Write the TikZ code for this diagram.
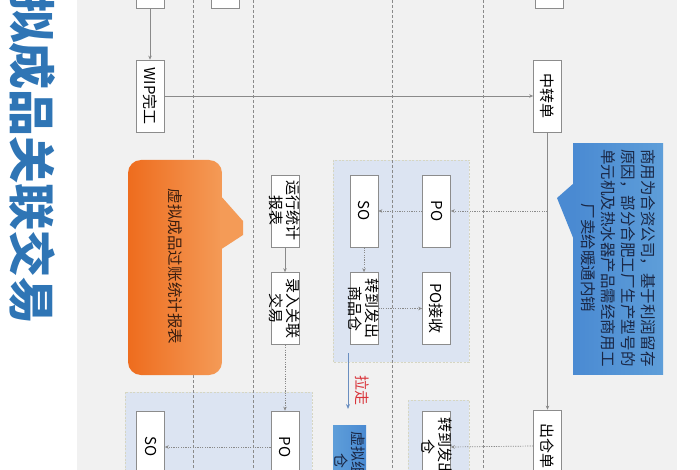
\documentclass[tikz,border=0pt]{standalone}
\usepackage{fontspec}
\setmainfont{Noto Sans CJK SC}
\usetikzlibrary{arrows.meta}
\definecolor{bggray}{HTML}{F1F1F1}
\definecolor{boxgray}{HTML}{8C8C8C}
\definecolor{linegray}{HTML}{8A8A8A}
\definecolor{grpfill}{HTML}{DCE4F2}
\definecolor{grpline}{HTML}{D6D6C2}
\definecolor{titleblue}{HTML}{2F75B5}
\definecolor{orA}{HTML}{EE6C1E}
\definecolor{orB}{HTML}{F49B57}
\definecolor{blA}{HTML}{4A8AD2}
\definecolor{blB}{HTML}{5E9ED9}
\definecolor{navytxt}{HTML}{1A2745}
\definecolor{darktxt}{HTML}{3A1E10}
\definecolor{redtxt}{HTML}{D9343A}
\definecolor{arrblue}{HTML}{6A8EC0}
\begin{document}
\begin{tikzpicture}[x=1pt,y=-1pt,
  box/.style={draw=boxgray, fill=white, line width=0.7pt, minimum width=28pt, minimum height=72pt, inner sep=0pt},
  vt/.style={rotate=-90, align=center, inner sep=0pt, font=\fontsize{15}{17}\selectfont, text=black},
  grp/.style={fill=grpfill, draw=grpline, line width=0.7pt, dash pattern=on 2pt off 1.5pt},
  vdash/.style={draw=linegray, line width=0.8pt, dash pattern=on 3pt off 2pt},
  arr/.style={draw=linegray, line width=0.7pt, -{Stealth[length=4pt,width=3.5pt]}},
  dotarr/.style={arr, dash pattern=on 1.2pt off 1.2pt}]
\useasboundingbox (0,0) rectangle (700,470);
\clip (0,0) rectangle (700,470);
\fill[white] (0,0) rectangle (700,470);
\fill[bggray] (77,0) rectangle (677,470);
% title
\node[rotate=-90, inner sep=0pt, text=titleblue, font=\bfseries\fontsize{47}{47}\selectfont] (ttl) at (32,160.5) {拟成品关联交易};
% groups
\draw[grp] (333,160) rectangle (469,362);
\draw[grp] (125,392) rectangle (312,490);
\draw[grp] (408,400) rectangle (469,490);
% swimlane separators
\foreach \x in {193,253,392,483} \draw[vdash] (\x,0) -- (\x,470);
% orange callout
\shade[left color=orA, right color=orB, rounded corners=13pt] (128,160) rectangle (222,375);
\fill[orB] (220,195) -- (243,221) -- (243,235) -- (220,250) -- cycle;
\node[vt, text=darktxt, font=\fontsize{15.5}{17}\selectfont] (orT) at (175,266.5) {虚拟成品过账统计报表};
% blue callout
\shade[left color=blA, right color=blB] (573,144) rectangle (663,374);
\fill[blA] (574,183) -- (557,198) -- (574,240) -- cycle;
\node[vt, text=navytxt, font=\fontsize{15.5}{20}\selectfont] (blT) at (618,258) {商用为合资公司，基于利润留存\\原因，部分合肥工厂生产型号的\\单元机及热水器产品需经商用工\\厂卖给暖通内销};
% boxes
\node[box] (tb1) at (150,-28) {};
\node[box] (tb2) at (225,-28) {};
\node[box] (tb3) at (549.5,-28) {};
\node[box] (wip) at (150,96) {};
\node[vt] (wipT) at (wip) {WIP完工};
\node[box] (zz) at (547.5,96) {};
\node[vt] (zzT) at (zz) {中转单};
\node[box] (yx) at (285,211) {};
\node[vt] (yxT) at (yx) {运行统计\\报表};
\node[box] (yl) at (285,308.5) {};
\node[vt] (ylT) at (yl) {录入关联\\交易};
\node[box] (so1) at (364,211) {};
\node[vt] (so1T) at (so1) {SO};
\node[box] (po1) at (436.5,211) {};
\node[vt] (po1T) at (po1) {PO};
\node[box] (zf) at (364,308.5) {};
\node[vt] (zfT) at (zf) {转到发出\\商品仓};
\node[box] (pojs) at (436.5,308.5) {};
\node[vt] (pojsT) at (pojs) {PO接收};
\node[box] (so2) at (150.5,447) {};
\node[vt] (so2T) at (so2) {SO};
\node[box] (po2) at (285,447) {};
\node[vt] (po2T) at (po2) {PO};
\node[box] (zf2) at (436.5,447) {};
\node[vt] (zf2T) at (zf2) {转到发出\\仓};
\node[box] (ck) at (547.5,446) {};
\node[vt] (ckT) at (ck) {出仓单};
\node[minimum width=33pt, minimum height=72pt, inner sep=0pt, left color=blB, right color=blA] (xn) at (349.5,461) {};
\node[vt, text=navytxt] (xnT) at (xn) {虚拟组装\\仓};
% connectors
\draw[arr] (tb1.south) -- (wip.north);
\draw[arr] (wip.east) -- (zz.west);
\draw[arr] (zz.south) -- (ck.north);
\coordinate (j1) at (547.5,211);
\draw[dotarr] (j1) -- (po1.east);
\draw[dotarr] (po1.west) -- (so1.east);
\draw[dotarr] (so1.south) -- (zf.north);
\draw[dotarr] (zf.east) -- (pojs.west);
\draw[arr] (yx.south) -- (yl.north);
\draw[dotarr] (yl.south) -- (po2.north);
\draw[dotarr] (po2.west) -- (so2.east);
\draw[dotarr] (ck.west) -- (zf2.east);
% pull-away arrow
\coordinate (lzA) at (348,353);
\coordinate (lzB) at (348,409);
\draw[draw=arrblue, line width=1pt, -{Stealth[length=5pt,width=4pt]}] (lzA) -- (lzB);
\node[vt, text=redtxt] (lz) at (362,390) {拉走};
\end{tikzpicture}
\end{document}
